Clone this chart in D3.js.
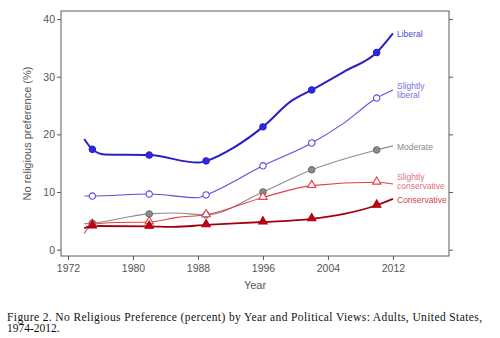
<!DOCTYPE html>
<html>
<head>
<meta charset="utf-8">
<script src="https://cdn.jsdelivr.net/npm/d3@7"></script>
<style>
  body { margin: 0; background: #fff; }
  svg { display: block; }
</style>
</head>
<body>
<svg id="chart" width="500" height="338"></svg>
<script>
// ---- DATA ----
let markerYears = [1975, 1982, 1989, 1996, 2002, 2010];
let yTicks = [0, 10, 20, 30, 40];
let xTicks = [1972, 1980, 1988, 1996, 2004, 2012];

// smoothed lines: [year, percent]
let liberalLine = [[1974, 19.2], [1975, 17.4], [1976.5, 16.5], [1982, 16.4], [1988, 15.1], [1989, 15.4], [1992.5, 17.8], [1996, 21.3], [1999.5, 25.8], [2002, 27.7], [2006, 30.9], [2010, 34.2], [2012, 37.5]];
let slLiberalLine = [[1974, 9.3], [1975, 9.3], [1982, 9.65], [1988, 9.0], [1989, 9.5], [1996, 14.55], [2002, 18.5], [2006, 22.0], [2010, 26.3], [2012, 27.7]];
let moderateLine = [[1974, 4.5], [1975, 4.6], [1982, 6.2], [1985, 6.35], [1989, 6.05], [1996, 10.0], [2002, 13.85], [2010, 17.3], [2012, 18.0]];
let slConservLine = [[1974, 2.8], [1975, 4.4], [1978, 4.7], [1982, 4.8], [1985.5, 5.6], [1989, 6.05], [1996, 9.06], [2002, 11.1], [2010, 11.7], [2012, 11.4]];
let conservLine = [[1974, 3.75], [1975, 4.1], [1982, 4.05], [1985, 3.95], [1989, 4.3], [1996, 4.8], [2002, 5.35], [2006, 6.2], [2010, 7.7], [2012, 8.8]];

// period markers
let liberalPts = [17.4, 16.4, 15.4, 21.3, 27.7, 34.2];
let slLiberalPts = [9.3, 9.65, 9.5, 14.55, 18.5, 26.3];
let moderatePts = [4.6, 6.2, 6.05, 10.0, 13.85, 17.3];
let slConservPts = [4.4, 4.8, 6.05, 9.06, 11.1, 11.7];
let conservPts = [4.1, 4.05, 4.3, 4.8, 5.35, 7.7];

let series = [
  { name: "Moderate", line: moderateLine, pts: moderatePts, color: "#8c8c8c", width: 1.1,
    shape: "circle", fill: "#8c8c8c", stroke: "#6e6e6e", label: ["Moderate"], labelColor: "#8a8a8a" },
  { name: "Slightly conservative", line: slConservLine, pts: slConservPts, color: "#e2404c", width: 1.1,
    shape: "triangle", fill: "#fff", stroke: "#e2404c", label: ["Slightly", "conservative"], labelColor: "#e0707c" },
  { name: "Conservative", line: conservLine, pts: conservPts, color: "#a3000f", width: 1.8,
    shape: "triangle", fill: "#cc0011", stroke: "#a3000f", label: ["Conservative"], labelColor: "#d8404c" },
  { name: "Slightly liberal", line: slLiberalLine, pts: slLiberalPts, color: "#5a4fe0", width: 1.1,
    shape: "circle", fill: "#fff", stroke: "#5a4fe0", label: ["Slightly", "liberal"], labelColor: "#7a70e6" },
  { name: "Liberal", line: liberalLine, pts: liberalPts, color: "#2a1fc4", width: 2,
    shape: "circle", fill: "#2a2ae6", stroke: "#2a1fc4", label: ["Liberal"], labelColor: "#4e48d8" }
];

// ---- LAYOUT ----
let svg = d3.select("#chart");
let plotL = 61, plotR = 449, plotT = 11, plotB = 256;

let x = d3.scaleLinear().domain([1971.14, 2018.9]).range([plotL, plotR]);
let y = d3.scaleLinear().domain([-1.1, 41.4]).range([plotB, plotT]);

let axisColor = "#5a5a5a";
let textFont = "'Liberation Sans', Arial, sans-serif";

// frame
svg.append("rect")
  .attr("x", plotL).attr("y", plotT)
  .attr("width", plotR - plotL).attr("height", plotB - plotT)
  .attr("fill", "none")
  .attr("stroke", axisColor)
  .attr("stroke-width", 1);

// left axis
let yAxisL = d3.axisLeft(y).tickValues(yTicks).tickSize(4).tickPadding(2);
let gl = svg.append("g").attr("transform", `translate(${plotL},0)`).call(yAxisL);
// right axis (ticks only)
let yAxisR = d3.axisRight(y).tickValues(yTicks).tickSize(4).tickFormat("");
let gr = svg.append("g").attr("transform", `translate(${plotR},0)`).call(yAxisR);
// bottom axis
let xAxis = d3.axisBottom(x).tickValues(xTicks).tickFormat(d3.format("d")).tickSize(4).tickPadding(5);
let gb = svg.append("g").attr("transform", `translate(0,${plotB})`).call(xAxis);

[gl, gr, gb].forEach(g => {
  g.select(".domain").remove();
  g.selectAll("line").attr("stroke", axisColor);
  g.selectAll("text")
    .attr("fill", "#555")
    .style("font-family", textFont)
    .style("font-size", "10.5px");
});

// axis titles
svg.append("text")
  .attr("transform", `translate(31,${(plotT + plotB) / 2}) rotate(-90)`)
  .attr("text-anchor", "middle")
  .attr("fill", "#555")
  .style("font-family", textFont)
  .style("font-size", "11px")
  .text("No religious preference (%)");

svg.append("text")
  .attr("x", 255).attr("y", 288.5)
  .attr("text-anchor", "middle")
  .attr("fill", "#555")
  .style("font-family", textFont)
  .style("font-size", "11px")
  .text("Year");

// ---- LINES ----
let lineGen = d3.line()
  .x(d => x(d[0]))
  .y(d => y(d[1]))
  .curve(d3.curveMonotoneX);

let lineGroup = svg.append("g").attr("class", "lines");
lineGroup.selectAll("path")
  .data(series)
  .enter().append("path")
  .attr("d", d => lineGen(d.line))
  .attr("fill", "none")
  .attr("stroke", d => d.color)
  .attr("stroke-width", d => d.width);

// ---- MARKERS ----
let markerGroup = svg.append("g").attr("class", "markers");
series.forEach(s => {
  let sym = d3.symbol()
    .type(s.shape === "circle" ? d3.symbolCircle : d3.symbolTriangle)
    .size(s.shape === "circle" ? 32 : 30);
  markerGroup.selectAll(null)
    .data(s.pts.map((v, i) => [markerYears[i], v]))
    .enter().append("path")
    .attr("d", sym)
    .attr("transform", d => `translate(${x(d[0])},${y(d[1]) - (s.shape === "triangle" ? 0.5 : 0)})`)
    .attr("fill", s.fill)
    .attr("stroke", s.stroke)
    .attr("stroke-width", 1.1);
});

// ---- END LABELS ----
let labelGroup = svg.append("g").attr("class", "labels");
let labelY = { "Liberal": 37, "Slightly liberal": 89, "Moderate": 150, "Slightly conservative": 180, "Conservative": 202.5 };
series.forEach(s => {
  let t = labelGroup.append("text")
    .attr("x", 397)
    .attr("y", labelY[s.name])
    .attr("fill", s.labelColor)
    .style("font-family", textFont)
    .style("font-size", "8.5px");
  s.label.forEach((l, i) => {
    t.append("tspan").attr("x", 397).attr("dy", i === 0 ? 0 : 8.5).text(l);
  });
});

// ---- CAPTION ----
let captionFont = "'Liberation Serif', 'Times New Roman', serif";
svg.append("text")
  .attr("x", 7).attr("y", 320.5)
  .attr("textLength", 475)
  .attr("lengthAdjust", "spacing")
  .attr("fill", "#111")
  .style("font-family", captionFont)
  .style("font-size", "11.5px")
  .text("Figure 2.  No Religious Preference (percent) by Year and Political Views:  Adults, United States,");

svg.append("text")
  .attr("x", 7).attr("y", 332)
  .attr("fill", "#111")
  .style("font-family", captionFont)
  .style("font-size", "11.5px")
  .text("1974-2012.");
</script>
</body>
</html>
